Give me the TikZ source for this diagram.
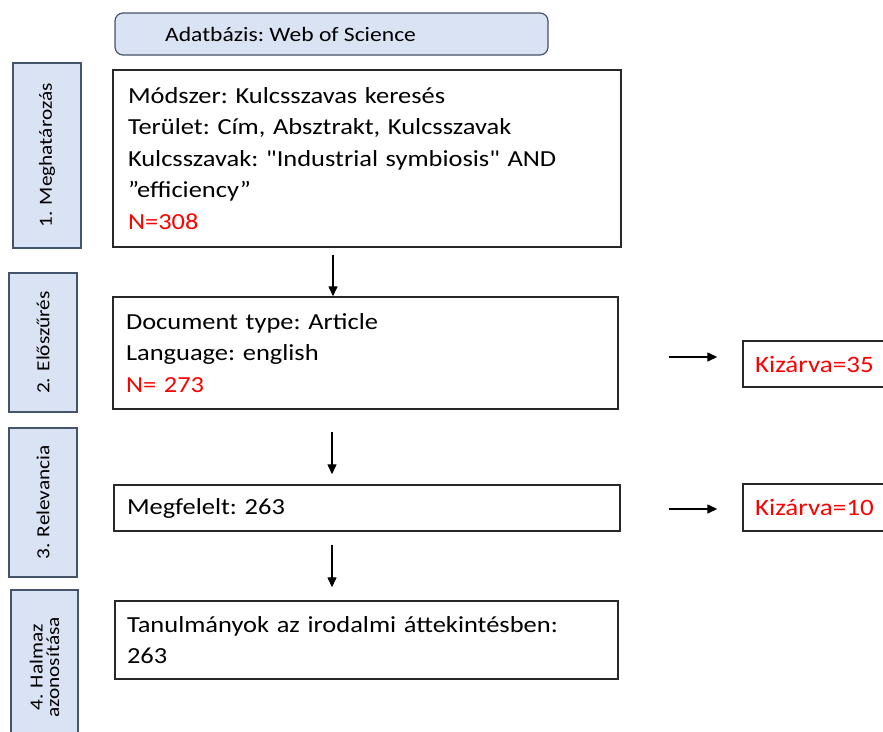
\documentclass[tikz,border=0pt]{standalone}
\usepackage{fontspec}
\setmainfont[FakeStretch=1.15,Ligatures=TeXOff]{Carlito}
\usetikzlibrary{arrows.meta}
\definecolor{sidefill}{RGB}{218,227,243}
\definecolor{sidedraw}{RGB}{68,84,106}
\definecolor{boxdraw}{RGB}{40,40,40}
\definecolor{kred}{RGB}{255,0,0}
\tikzset{
  mainbox/.style={draw=boxdraw, line width=1.4pt, fill=white, align=left, inner xsep=13pt, inner ysep=0pt,
    font=\fontsize{23}{31.5}\selectfont\frenchspacing},
  sidebox/.style={draw=sidedraw, line width=1.4pt, fill=sidefill, rotate=90, align=center, inner sep=0pt,
    font=\fontsize{18.5}{16.5}\selectfont},
  topbox/.style={draw=sidedraw, line width=1.2pt, fill=sidefill, rounded corners=8pt, inner sep=0pt},
  kizbox/.style={draw=boxdraw, line width=1.4pt, fill=white, text=kred, inner xsep=12pt, inner ysep=0pt,
    font=\fontsize{23.5}{26}\selectfont, align=left},
  arr/.style={line width=1.3pt, -{Triangle[length=10pt,width=9pt]}}
}
\begin{document}
\begin{tikzpicture}[x=1pt,y=-1pt]
\useasboundingbox (0,0) rectangle (883,731);
\clip (0,0) rectangle (883,731);
% top database box
\node[topbox, minimum width=433pt, minimum height=42pt] (db) at (331.5,34) {};
\node[anchor=west, font=\fontsize{20.5}{22}\selectfont\frenchspacing, inner sep=0pt] (dbt) at (165,34) {Adatbázis: Web of Science};
% side boxes
\node[sidebox, minimum width=185pt, minimum height=68pt] (s1) at (47,155.5) {1. Meghatározás};
\node[sidebox, minimum width=139pt, minimum height=68pt] (s2) at (43,342.5) {2. Előszűrés};
\node[sidebox, minimum width=149pt, minimum height=68pt] (s3) at (43,502.5) {3. Relevancia};
\node[sidebox, minimum width=155pt, minimum height=67pt] (s4) at (44.5,667.5) {4. Halmaz\\azonosítása};
% main boxes
\node[mainbox, inner xsep=15pt, text width=478pt, minimum height=177pt] (b1) at (367,158.5)
 {Módszer: Kulcsszavas keresés\\
  Terület: Cím, Absztrakt, Kulcsszavak\\
  Kulcsszavak: "Industrial symbiosis" AND\\
  ”efficiency”\\
  \textcolor{kred}{N=308}};
\node[mainbox, text width=479pt, minimum height=112pt] (b2) at (365.5,353)
 {Document type: Article\\
  Language: english\\
  \textcolor{kred}{N= 273}};
\node[mainbox, text width=480pt, minimum height=46pt] (b3) at (367,508)
 {Megfelelt: 263};
\node[mainbox, inner xsep=12pt, text width=479pt, minimum height=78pt] (b4) at (366.5,640)
 {Tanulmányok az irodalmi áttekintésben:\\
  263};
% exclusion boxes
\node[kizbox, text width=133pt, minimum height=46pt] (k1) at (821.5,364) {Kizárva=35};
\node[kizbox, text width=133pt, minimum height=47pt] (k2) at (821.5,507.5) {Kizárva=10};
% arrows
\draw[arr] ([xshift=-34pt,yshift=-7pt]b1.south) -- ([xshift=-32.5pt]b2.north);
\draw[arr] ([xshift=-33.5pt,yshift=-22pt]b2.south) -- ([xshift=-35pt,yshift=10pt]b3.north);
\draw[arr] ([xshift=-35pt,yshift=-13pt]b3.south) -- ([xshift=-34.5pt,yshift=13pt]b4.north);
\draw[arr] ([xshift=50pt,yshift=-4pt]b2.east) -- ([xshift=-25pt,yshift=7pt]k1.west);
\draw[arr] ([xshift=48pt,yshift=-1pt]b3.east) -- ([xshift=-25pt,yshift=-1.5pt]k2.west);
\end{tikzpicture}
\end{document}
